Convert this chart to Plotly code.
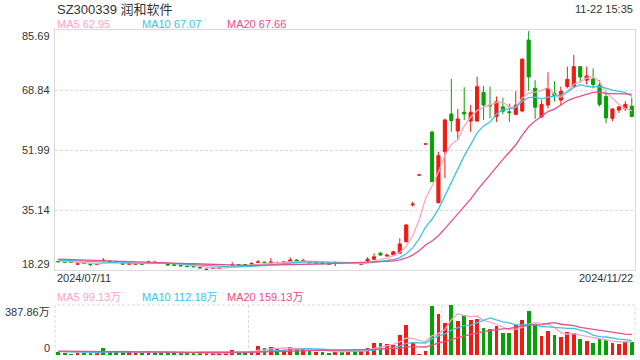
import numpy as np
import plotly.graph_objects as go

# ---------------- data ----------------
title = "SZ300339 润和软件"
timestamp = "11-22 15:35"
date_labels = ["2024/07/11", "2024/11/22"]
price_ticks = [85.69, 68.84, 51.99, 35.14, 18.29]
vol_ticks = [387.86, 0]
vol_tick_text = ["387.86万", "0"]
ma_price_text = ["MA5 62.95", "MA10 67.07", "MA20 67.66"]
ma_vol_text = ["MA5 99.13万", "MA10 112.18万", "MA20 159.13万"]

opens = [20.7, 20.6, 20.55, 19.95, 20.2, 20.0, 19.9, 21.1, 20.8, 20.6,
         20.05, 19.95, 19.95, 20.0, 20.45, 20.5, 20.4, 20.0, 19.8, 19.6,
         19.4, 19.3, 19.05, 18.45, 18.8, 18.8, 19.15, 19.7, 19.8, 19.8,
         19.95, 20.45, 20.5, 20.2, 20.4, 20.45, 20.7, 21.1, 20.85, 20.45,
         20.3, 20.25, 20.05, 20.1, 20.2, 20.3, 20.2, 19.95, 20.8, 21.3,
         23.0, 22.2, 22.5, 23.0, 26.24, 36.6, 44.97, 53.68, 57.05, 37.19,
         51.5, 62.1, 57.33, 62.6, 60.1, 60.1, 68.19, 64.6, 61.34, 64.1,
         62.7, 62.0, 62.94, 82.88, 69.32, 61.3, 64.6, 67.9, 66.0, 69.8,
         69.8, 75.4, 71.6, 71.9, 70.2, 67.0, 60.9, 63.2, 63.6, 64.3]
highs = [20.8, 20.7, 20.6, 20.05, 20.3, 20.1, 20.05, 21.66, 20.95, 20.7,
         20.15, 20.1, 20.1, 20.1, 20.9, 20.9, 20.5, 20.1, 19.9, 19.7,
         19.5, 19.4, 19.1, 18.6, 18.9, 18.9, 19.3, 20.5, 19.9, 19.9,
         20.5, 21.1, 20.6, 21.66, 20.7, 20.9, 21.85, 21.3, 21.5, 20.55,
         20.45, 20.35, 20.15, 20.7, 20.3, 20.45, 20.3, 20.2, 21.9, 23.0,
         23.4, 22.9, 23.7, 27.2, 31.2, 37.5, 44.97, 53.68, 57.4, 51.5,
         60.8, 71.93, 63.5, 69.6, 64.6, 72.6, 70.0, 69.8, 67.0, 66.7,
         65.0, 68.5, 77.7, 85.4, 71.6, 66.0, 73.8, 71.3, 69.8, 75.4,
         78.7, 75.4, 75.4, 74.9, 71.6, 68.4, 63.7, 64.3, 65.7, 66.7]
lows = [20.5, 20.4, 20.4, 19.85, 20.0, 19.4, 19.8, 20.8, 20.6, 20.45,
        19.9, 19.85, 19.85, 19.85, 20.35, 20.35, 20.25, 19.6, 19.5, 19.35,
        19.2, 19.1, 18.7, 18.3, 18.7, 18.7, 19.05, 19.6, 19.65, 19.65,
        19.85, 20.3, 20.3, 20.1, 20.1, 20.35, 20.6, 20.8, 20.75, 20.3,
        20.2, 20.1, 19.9, 19.4, 20.0, 20.2, 20.0, 19.8, 20.7, 21.2,
        22.3, 22.1, 22.4, 22.9, 26.0, 36.1, 44.97, 53.68, 43.0, 37.0,
        44.04, 57.1, 54.8, 60.4, 57.1, 60.0, 60.4, 60.9, 59.9, 62.0,
        59.9, 61.8, 62.6, 68.6, 60.7, 60.9, 63.7, 65.6, 64.6, 69.3,
        69.6, 70.9, 70.4, 69.3, 64.2, 59.5, 60.1, 62.4, 62.9, 61.2]
closes = [20.6, 20.5, 20.45, 20.0, 20.1, 19.85, 20.0, 20.9, 20.7, 20.55,
          19.95, 20.0, 20.0, 19.95, 20.5, 20.4, 20.3, 19.7, 19.6, 19.45,
          19.25, 19.2, 18.9, 18.5, 18.85, 18.85, 19.2, 19.8, 19.75, 19.75,
          20.1, 20.55, 20.35, 20.55, 20.35, 20.55, 21.1, 20.9, 20.95, 20.35,
          20.35, 20.15, 19.95, 20.2, 20.1, 20.35, 20.1, 20.0, 21.3, 22.0,
          22.5, 22.45, 23.4, 25.6, 30.93, 36.8, 44.97, 53.68, 43.09, 50.39,
          60.42, 60.22, 60.7, 62.1, 62.58, 69.77, 64.63, 64.4, 65.56, 62.9,
          62.5, 64.6, 77.5, 72.5, 64.0, 64.8, 69.3, 67.3, 68.5, 71.8,
          75.4, 72.5, 72.8, 70.4, 64.8, 61.0, 63.5, 64.1, 64.8, 61.4]
# closes before 2024/07/11 (only feed the moving averages at the left edge)
prior_closes = [21.9, 21.8, 21.7, 21.8, 21.6, 21.7, 21.5, 21.6, 21.4, 21.5,
                21.3, 21.4, 21.2, 21.3, 21.1, 21.0, 21.1, 20.9, 20.8]

volumes = [21, 18, 8, 18, 18, 21, 18, 57, 21, 21, 21, 21, 21, 16, 31, 21, 21, 21, 21, 13,
           16, 16, 16, 13, 13, 13, 16, 39, 18, 18,
           34, 70, 54, 62, 44, 41, 62, 52, 44, 34, 26, 26, 18, 31, 26, 34, 34, 34, 54, 96,
           96, 85, 80, 155, 233, 90, 8, 34, 380, 318, 251, 387.86, 264, 310, 271, 279, 209, 202, 225, 171,
           171, 233, 271, 341, 240, 147, 186, 155, 140, 178, 171, 124, 109, 93, 124, 116, 93, 85, 101, 101]
prior_volumes = [30, 34, 28, 36, 30, 32, 27, 35, 30, 29, 33, 28, 31, 30, 27, 29, 26, 28, 25]

# ---------------- styles ----------------
RED = "#ee1c12"
GREEN = "#08a008"
C_MA5 = "#ffa3c4"
C_MA10 = "#3cc4e6"
C_MA20 = "#ea4d87"
GRID = "#dadada"
TXT = "#333333"
FONT = "Liberation Sans, Arial, Noto Sans CJK SC, sans-serif"

n = len(closes)
x = np.arange(n)

up = []
for i in range(n):
    if closes[i] > opens[i]:
        up.append(True)
    elif closes[i] < opens[i]:
        up.append(False)
    else:
        prev = closes[i - 1] if i > 0 else prior_closes[-1]
        up.append(closes[i] >= prev)
up = np.array(up)


def ma(prior, vals, k):
    full = np.array(prior + vals, dtype=float)
    out = np.convolve(full, np.ones(k) / k, mode="valid")
    return out[-len(vals):]


fig = go.Figure()

O, H, L, C = map(np.array, (opens, highs, lows, closes))
for mask, col in ((up, RED), (~up, GREEN)):
    fig.add_trace(go.Candlestick(
        x=x[mask], open=O[mask], high=H[mask], low=L[mask], close=C[mask],
        increasing=dict(line=dict(color=col, width=1), fillcolor=col),
        decreasing=dict(line=dict(color=col, width=1), fillcolor=col),
        whiskerwidth=0, hoverinfo="skip", showlegend=False,
        xaxis="x", yaxis="y"))

for k, col in ((5, C_MA5), (10, C_MA10), (20, C_MA20)):
    fig.add_trace(go.Scatter(x=x, y=ma(prior_closes, closes, k), mode="lines",
                             line=dict(color=col, width=1.3), hoverinfo="skip",
                             showlegend=False, xaxis="x", yaxis="y"))

fig.add_trace(go.Bar(x=x, y=volumes, width=0.58,
                     marker=dict(color=[RED if u else GREEN for u in up], line=dict(width=0)),
                     hoverinfo="skip", showlegend=False, xaxis="x2", yaxis="y2"))
for k, col in ((5, C_MA5), (10, C_MA10), (20, C_MA20)):
    fig.add_trace(go.Scatter(x=x, y=ma(prior_volumes, volumes, k), mode="lines",
                             line=dict(color=col, width=1.3), hoverinfo="skip",
                             showlegend=False, xaxis="x2", yaxis="y2"))

W, Hh = 640, 360
XL, XR = 55, 635
def py(yp):
    return 1 - yp / Hh

fig.update_layout(
    width=W, height=Hh, margin=dict(l=0, r=0, t=0, b=0),
    paper_bgcolor="white", plot_bgcolor="white",
    font=dict(family=FONT, size=11, color=TXT),
    boxmode="overlay", bargap=0,
    xaxis=dict(domain=[XL / W, XR / W], range=[-0.5, n - 0.5], anchor="y",
               showticklabels=False, showgrid=False, zeroline=False,
               showline=True, linecolor=GRID, linewidth=1, mirror=True,
               rangeslider=dict(visible=False), fixedrange=True),
    yaxis=dict(domain=[py(270), py(30)], range=[price_ticks[-1], price_ticks[0]],
               tickvals=price_ticks[1:-1], showticklabels=False,
               showgrid=True, gridcolor=GRID, griddash="3px,2px", gridwidth=1,
               zeroline=False, showline=True, linecolor=GRID, linewidth=1, mirror=True),
    xaxis2=dict(domain=[XL / W, XR / W], range=[-0.5, n - 0.5], anchor="y2",
                tickvals=[29.5, 59.5], showticklabels=False, showgrid=True,
                gridcolor=GRID, griddash="3px,2px", zeroline=False, showline=False),
    yaxis2=dict(domain=[py(355), py(305)], range=[0, vol_ticks[0]], anchor="x2",
                showticklabels=False, showgrid=False, zeroline=False, showline=False),
)

# dotted frame for the volume panel
fig.add_shape(type="rect", xref="x2 domain", yref="y2 domain", x0=0, x1=1, y0=0, y1=1,
              line=dict(color=GRID, width=1, dash="3px,2px"), layer="below")

ann = []
ann.append(dict(text=title, x=XL / W, y=py(9), xref="paper", yref="paper",
                xanchor="left", yanchor="middle", showarrow=False,
                font=dict(size=13, color=TXT)))
ann.append(dict(text=timestamp, x=XR / W, y=py(9), xref="paper", yref="paper",
                xanchor="right", yanchor="middle", showarrow=False,
                font=dict(size=11, color=TXT)))
for txt, xp, col in zip(ma_price_text, (55, 140, 225), (C_MA5, C_MA10, C_MA20)):
    ann.append(dict(text=txt, x=xp / W, y=py(24), xref="paper", yref="paper",
                    xanchor="left", yanchor="middle", showarrow=False,
                    font=dict(size=11, color=col)))
for txt, xp, col in zip(ma_vol_text, (55, 140, 225), (C_MA5, C_MA10, C_MA20)):
    ann.append(dict(text=txt, x=xp / W, y=py(297), xref="paper", yref="paper",
                    xanchor="left", yanchor="middle", showarrow=False,
                    font=dict(size=11, color=col)))
for i, v in enumerate(price_ticks):
    shift = -6 if i == 0 else (6 if i == len(price_ticks) - 1 else 0)
    ann.append(dict(text=f"{v:.2f}", x=52 / W, y=v, xref="paper", yref="y",
                    xanchor="right", yanchor="middle", yshift=shift, showarrow=False,
                    font=dict(size=11, color=TXT)))
for v, t, s in zip(vol_ticks, vol_tick_text, (-7, 7)):
    ann.append(dict(text=t, x=52 / W, y=v, xref="paper", yref="y2",
                    xanchor="right", yanchor="middle", yshift=s, showarrow=False,
                    font=dict(size=11, color=TXT)))
ann.append(dict(text=date_labels[0], x=XL / W, y=py(278), xref="paper", yref="paper",
                xanchor="left", yanchor="middle", showarrow=False, font=dict(size=11, color=TXT)))
ann.append(dict(text=date_labels[1], x=XR / W, y=py(278), xref="paper", yref="paper",
                xanchor="right", yanchor="middle", showarrow=False, font=dict(size=11, color=TXT)))
fig.update_layout(annotations=ann)

fig.write_html("out.html", config=dict(displayModeBar=False, staticPlot=True))
